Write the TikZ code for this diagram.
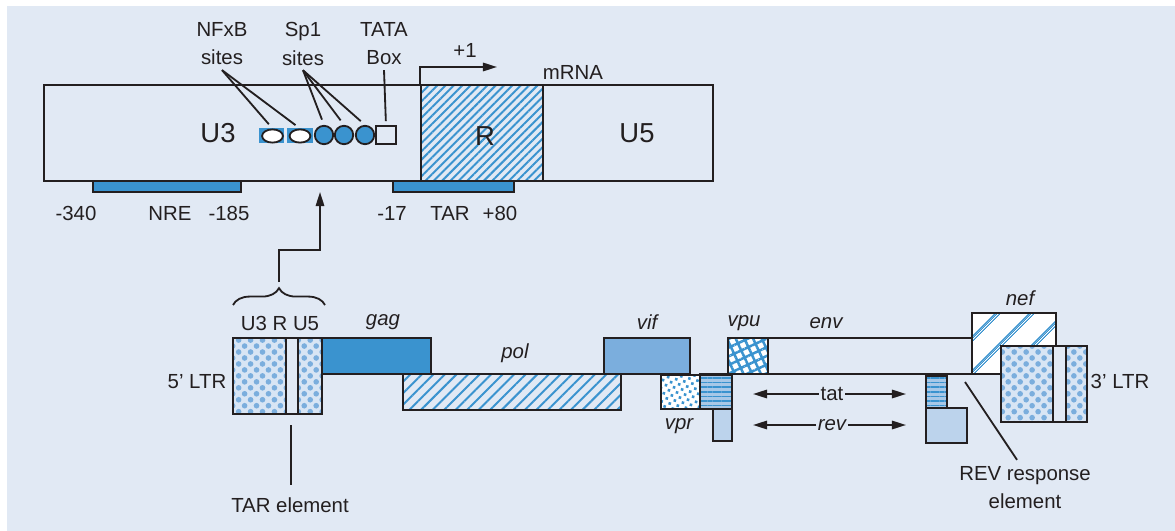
\documentclass[tikz,border=0pt]{standalone}
\usepackage{fontspec}
\setmainfont{Liberation Sans}
\usetikzlibrary{patterns.meta,fit,shapes.geometric,arrows.meta,decorations.pathreplacing,calc}

\definecolor{hivbg}{HTML}{E1E9F4}
\definecolor{hivblue}{HTML}{3A93CF}
\definecolor{hivmid}{HTML}{7BAEDD}
\definecolor{hivpale}{HTML}{BCD3EC}
\definecolor{hivdot}{HTML}{D8E5F4}
\definecolor{hivink}{HTML}{231F20}

\newcommand{\lblfont}{\fontsize{14.5pt}{20pt}\selectfont}
\newcommand{\regfont}{\fontsize{19.5pt}{22pt}\selectfont}

\tikzset{
  genebox/.style={
    draw=hivink,
    line width=1.6pt,
    inner sep=0pt
  },
  ltrbox/.style={
    genebox,
    preaction={fill=hivdot},
    pattern={Dots[angle=45,distance=6pt,radius=2pt]},
    pattern color=hivmid
  },
  hatchbox/.style={
    genebox,
    pattern={Lines[angle=45,distance=#1,line width=1.4pt]},
    pattern color=hivblue
  },
  stripebox/.style={
    genebox,
    preaction={fill=hivpale!70!hivmid},
    pattern={Lines[angle=0,distance=3.3pt,line width=1.1pt]},
    pattern color=hivblue
  },
  palebox/.style={
    genebox,
    fill=hivpale
  },
  strip/.style={
    draw=hivink,
    line width=1.6pt,
    fill=hivbg
  },
  bar/.style={
    draw=hivink,
    line width=1.2pt,
    fill=hivblue,
    inner sep=0pt
  },
  site/.style={
    draw=hivink,
    line width=1.3pt,
    inner sep=0pt
  },
  link/.style={
    draw=hivink,
    line width=1.3pt
  },
  pointer/.style={
    link,
    -{Triangle[length=10pt,width=6pt]}
  },
  gene/.style={font=\lblfont\itshape}
}

\begin{document}
\begin{tikzpicture}[x=0.025cm, y=-0.025cm, font=\lblfont, text=hivink]
  % panel
  \useasboundingbox (0,0) rectangle (1175,531);
  \fill[hivbg] (7,6) rectangle (1175,531);

  % LTR close-up
  \node[genebox, line width=1.4pt, fit={(44,85) (713,181)}] (ltr) {};
  \node[hatchbox=4.2pt, line width=1.4pt, fit={(421,85) (543,181)}] (rreg) {};
  \node[bar, fit={(93,181) (241,192)}] (nre) {};
  \node[bar, fit={(393,181) (514,192)}] (tarbar) {};
  \node[font=\regfont] (uthree) at (218,133) {U3};
  \node[font=\regfont] (rlab) at (485,136) {R};
  \node[font=\regfont] (ufive) at (637,133) {U5};

  % binding sites
  \fill[hivblue] (259,128) rectangle (284,143);
  \fill[hivblue] (287,128) rectangle (313,143);
  \node[site, ellipse, fill=white, minimum width=0.52cm, minimum height=0.33cm] (nfa) at (272.5,136) {};
  \node[site, ellipse, fill=white, minimum width=0.52cm, minimum height=0.33cm] (nfb) at (300,136) {};
  \node[site, circle, fill=hivblue, minimum size=0.46cm] (spa) at (324,135) {};
  \node[site, circle, fill=hivblue, minimum size=0.46cm] (spb) at (344,135) {};
  \node[site, circle, fill=hivblue, minimum size=0.46cm] (spc) at (365,135) {};
  \node[site, minimum width=0.5cm, minimum height=0.44cm] (tata) at (386,135) {};

  \node[align=center] (nflab) at (222,44) {NFxB\\sites};
  \node[align=center] (splab) at (303,44) {Sp1\\sites};
  \node[align=center] (tatalab) at (384,44) {TATA\\Box};
  \draw[link, shorten >=4pt] (nflab.south) -- (nfa.north);
  \draw[link, shorten >=4pt] (nflab.south) -- (nfb.north);
  \foreach \s in {spa,spb,spc}
    \draw[link, shorten >=4pt] (splab.south) -- (\s.north);
  \draw[link, shorten >=3pt] (tatalab.south) -- (tata.north);

  % start of transcription
  \node (plusone) at (465,50) {+1};
  \node (mrna) at (573,72) {mRNA};
  \coordinate (txend) at (497,67);
  \draw[pointer] (rreg.north west) |- (txend);

  % positions
  \node (pa) at (76,213) {-340};
  \node (nrelab) at (170,213) {NRE};
  \node (pb) at (229,213) {-185};
  \node (pc) at (392,213) {-17};
  \node (tarlab) at (450,213) {TAR};
  \node (pd) at (500,213) {+80};

  % provirus
  \node[hatchbox=5.8pt, line width=1.6pt, fit={(403,374) (621,410)}] (pol) {};
  \node[genebox, fill=hivblue, fit={(322,338) (431,374)}] (gag) {};
  \node[genebox, fill=hivmid, fit={(604,338) (690,374)}] (vif) {};
  \node[genebox, pattern={Dots[angle=30,distance=4.2pt,radius=1.3pt]},
    pattern color=hivblue, preaction={fill=white}, fit={(661,375) (700,409)}] (vpr) {};
  \node[palebox, fit={(713,409) (732,441)}] (revone) {};
  \node[stripebox, fit={(700,375) (732,409)}] (tatone) {};
  \node[genebox, fit={(728,338) (973,374)}] (env) {};
  \node[genebox, preaction={fill=white}, pattern={Hatch[angle=25,distance=5.6pt,line width=1.8pt]},
    pattern color=hivblue, fit={(728,338) (768,374)}] (vpu) {};
  \node[palebox, fit={(926,408) (967,443)}] (revtwo) {};
  \node[stripebox, fit={(926,376) (947,408)}] (tattwo) {};
  \node[genebox,
    preaction={fill=white},
    preaction={pattern={Lines[angle=45,distance=17pt,line width=.8pt]}, pattern color=hivblue},
    preaction={pattern={Lines[angle=45,distance=17pt,line width=.8pt,xshift=1.8pt]}, pattern color=hivblue},
    preaction={pattern={Lines[angle=45,distance=17pt,line width=.8pt,xshift=3.6pt]}, pattern color=hivblue},
    fit={(972,313) (1056,374)}] (nef) {};

  % LTRs
  \node[ltrbox, fit={(233,338) (322,414)}] (ltrfive) {};
  \draw[strip] (286,338) rectangle (298,414);
  \node[ltrbox, fit={(1001,346) (1087,422)}] (ltrthree) {};
  \draw[strip] (1053,346) rectangle (1066,422);
  \draw[link, line width=1.6pt] (tatone.north west) -- (tatone.north west -| ltrthree.west);

  % gene labels
  \node[gene] (gaglab) at (383,322) {gag};
  \node[gene] (pollab) at (515,353) {pol};
  \node[gene] (viflab) at (647,322) {vif};
  \node[gene] (vprlab) at (679,426) {vpr};
  \node[gene] (vpulab) at (744,323) {vpu};
  \node[gene] (envlab) at (826,323) {env};
  \node[gene] (neflab) at (1020,298) {nef};
  \node (ltrfivelab) at (197,382) {5' LTR};
  \node (ltrthreelab) at (1120,381) {3' LTR};
  \node (regions) at (280,323) {U3 R U5};

  % spliced exons
  \node[inner sep=1pt] (tat) at (832,394) {tat};
  \node[gene, inner sep=1pt] (rev) at (832,425) {rev};
  \coordinate (tatl) at (753,394);
  \coordinate (tatr) at (906,394);
  \coordinate (revl) at (753,425);
  \coordinate (revr) at (906,425);
  \draw[pointer] (tat.west) -- (tatl);
  \draw[pointer] (tat.east) -- (tatr);
  \draw[pointer] (rev.west) -- (revl);
  \draw[pointer] (rev.east) -- (revr);

  % brace to close-up
  \draw[link, decorate, decoration={brace, amplitude=12pt}] (233,305) -- (325,305);
  \coordinate (bracetip) at (279,282);
  \coordinate (uptip) at (320,192);
  \draw[pointer] (bracetip) -- ++(0,-32) -| (uptip);

  % callouts
  \node (tarel) at (290,505) {TAR element};
  \coordinate (tartop) at (291,425);
  \draw[link] (tartop) -- ($(tarel.north)+(1,-8)$);
  \node[align=center] (revel) at (1025,488) {REV response\\element};
  \coordinate (revtop) at (965,382);
  \draw[link] (revtop) -- ($(revel.north)+(-8,-2)$);
\end{tikzpicture}
\end{document}
